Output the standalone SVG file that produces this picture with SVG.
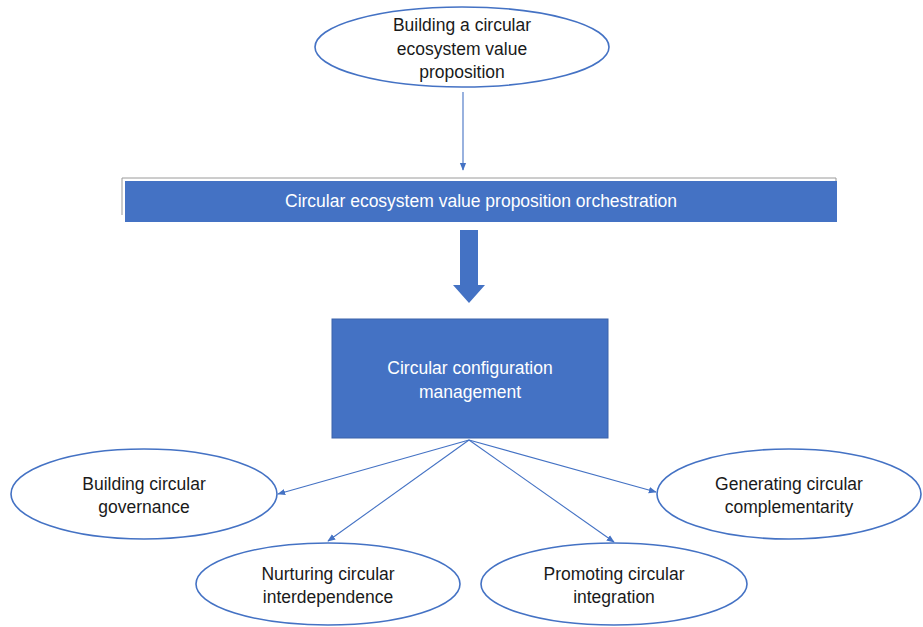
<svg xmlns="http://www.w3.org/2000/svg" width="923" height="627" viewBox="0 0 923 627">
<defs>
<style>
.ell{fill:#fff;stroke:#4472C4;stroke-width:1.6}
.t{font-family:"Liberation Sans",Arial,sans-serif;font-size:17.5px;fill:#1a1a1a;text-anchor:middle}
.tw{font-family:"Liberation Sans",Arial,sans-serif;font-size:17.5px;fill:#fff;text-anchor:middle}
.con{stroke:#4472C4;stroke-width:1.1;fill:none;marker-end:url(#ah)}
</style>
<marker id="ah" viewBox="0 0 10 10" refX="9" refY="5" markerWidth="8" markerHeight="8" markerUnits="userSpaceOnUse" orient="auto">
<path d="M0,1 L10,5 L0,9 Z" fill="#4472C4"/>
</marker>
</defs>
<rect width="923" height="627" fill="#fff"/>
<g id="n-top">
<ellipse class="ell" cx="462" cy="47" rx="147" ry="40"/>
<text class="t" x="462" y="31">Building a circular</text>
<text class="t" x="462" y="55">ecosystem value</text>
<text class="t" x="462" y="78">proposition</text>
</g>
<g id="n-banner">
<path d="M122,215 V178 H836 V183" fill="none" stroke="#9a9a9a" stroke-width="1"/>
<rect x="125" y="181" width="712" height="41" fill="#4472C4"/>
<text class="tw" x="481" y="207">Circular ecosystem value proposition orchestration</text>
</g>
<g id="n-box">
<rect x="332" y="319" width="276" height="119" fill="#4472C4" stroke="#3A62AA" stroke-width="1"/>
<text class="tw" x="470" y="374">Circular configuration</text>
<text class="tw" x="470" y="398">management</text>
</g>
<g id="n-gov">
<ellipse class="ell" cx="144" cy="494" rx="133" ry="45"/>
<text class="t" x="144" y="490">Building circular</text>
<text class="t" x="144" y="513">governance</text>
</g>
<g id="n-gen">
<ellipse class="ell" cx="789" cy="494" rx="132" ry="45"/>
<text class="t" x="789" y="490">Generating circular</text>
<text class="t" x="789" y="513">complementarity</text>
</g>
<g id="n-nur">
<ellipse class="ell" cx="328" cy="584" rx="132" ry="41"/>
<text class="t" x="328" y="580">Nurturing circular</text>
<text class="t" x="328" y="603">interdependence</text>
</g>
<g id="n-pro">
<ellipse class="ell" cx="614" cy="584" rx="133" ry="41"/>
<text class="t" x="614" y="580">Promoting circular</text>
<text class="t" x="614" y="603">integration</text>
</g>
<g id="connectors">
<line class="con" x1="463" y1="92" x2="463" y2="170"/>
<path d="M460,230 H478 V285 H485 L469,303 L453,285 H460 Z" fill="#4472C4"/>
<line class="con" x1="469" y1="440" x2="278" y2="494"/>
<line class="con" x1="469" y1="440" x2="328" y2="541"/>
<line class="con" x1="469" y1="440" x2="614" y2="542"/>
<line class="con" x1="469" y1="440" x2="656" y2="492"/>
</g>
</svg>
